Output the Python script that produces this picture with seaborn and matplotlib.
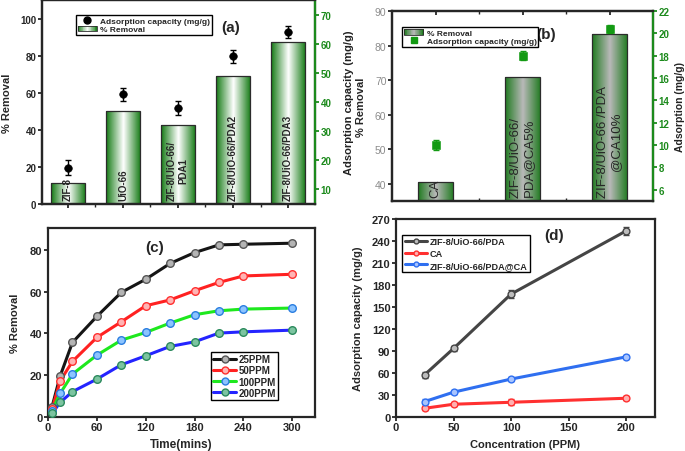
import numpy as np
import pandas as pd
import matplotlib
matplotlib.use('Agg')
import matplotlib.pyplot as plt
import seaborn as sns
from matplotlib.colors import LinearSegmentedColormap
from matplotlib.lines import Line2D
from matplotlib.patches import Rectangle
from matplotlib.legend_handler import HandlerBase

# ---------------- data ----------------
# (a) single materials
a_labels = ['ZIF-8', 'UiO-66', 'ZIF-8/UiO-66/\nPDA1', 'ZIF-8/UiO-66/PDA2', 'ZIF-8/UiO-66/PDA3']
a_removal = [11.2, 50.1, 42.6, 69.2, 87.2]
a_capacity = [17.5, 42.6, 38.0, 55.7, 64.1]
a_cap_err = [2.5, 2.2, 2.3, 2.2, 2.0]

# (b) membranes
b_labels = ['CA', 'ZIF-8/UiO-66/\nPDA@CA5%', 'ZIF-8/UiO-66 /PDA\n@CA10%']
b_removal = [40.5, 71.0, 83.3]
b_capacity = [10.0, 18.0, 20.4]
b_cap_err = [0.45, 0.4, 0.35]

# (c) kinetics
c_time = [5, 15, 30, 60, 90, 120, 150, 180, 210, 240, 300]
c_25ppm = [4.8, 19.6, 35.6, 48.1, 59.6, 65.9, 73.5, 78.7, 82.4, 82.7, 83.2]
c_50ppm = [3.7, 17.2, 26.5, 38.0, 45.5, 53.2, 56.0, 60.4, 64.4, 67.5, 68.3]
c_100ppm = [2.9, 11.2, 20.4, 29.5, 36.7, 40.4, 44.9, 48.9, 50.8, 51.6, 52.1]
c_200ppm = [1.6, 6.9, 12.0, 18.0, 24.9, 29.2, 33.7, 35.9, 40.1, 40.7, 41.5]
c_series = ['25PPM', '50PPM', '100PPM', '200PPM']

# (d) capacity vs concentration
d_conc = [25, 50, 100, 200]
d_pda = [57.4, 93.2, 167.5, 253.8]
d_ca = [11.5, 17.0, 19.7, 25.2]
d_pda_ca = [20.7, 33.5, 51.4, 81.7]
d_pda_err = [4, 4, 5, 5]
d_ca_err = [3, 3, 4, 3]
d_pda_ca_err = [3, 3, 3, 3]
d_series = ['ZIF-8/UiO-66/PDA', 'CA', 'ZIF-8/UiO-66/PDA@CA']

# ---------------- style ----------------
sns.set_theme(style='ticks')
plt.rcParams['font.family'] = ['Liberation Sans', 'DejaVu Sans']
plt.rcParams['font.weight'] = 'bold'
plt.rcParams['axes.labelweight'] = 'bold'
plt.rcParams['axes.linewidth'] = 1.6
plt.rcParams['xtick.major.width'] = 1.3
plt.rcParams['ytick.major.width'] = 1.3
plt.rcParams['xtick.major.size'] = 3
plt.rcParams['ytick.major.size'] = 3

GREEN = '#1c8a1c'
cmap_a = LinearSegmentedColormap.from_list('bar_a', ['#137a13', '#ffffff', '#137a13'])
cmap_b = LinearSegmentedColormap.from_list('bar_b', ['#1f7a1f', '#b9b9b9', '#1f7a1f'])


class GradientHandle:
    def __init__(self, cmap):
        self.cmap = cmap


class HandlerGradient(HandlerBase):
    """legend key drawn as vertical stripes of the bar gradient"""
    def create_artists(self, legend, orig_handle, xdescent, ydescent,
                       width, height, fontsize, trans):
        n = 24
        arts = []
        for i in range(n):
            r = Rectangle((-xdescent + i * width / n, -ydescent), width / n + 0.3,
                          height, facecolor=orig_handle.cmap((i + 0.5) / n),
                          edgecolor='none', transform=trans)
            arts.append(r)
        arts.append(Rectangle((-xdescent, -ydescent), width, height,
                              facecolor='none', edgecolor='#2b2b2b', lw=0.6,
                              transform=trans))
        return arts


def shade_bars(ax, cmap):
    """paint a horizontal edge->centre->edge gradient inside every bar"""
    grad = np.linspace(0, 1, 256).reshape(1, -1)
    for p in ax.patches:
        x0, y0 = p.get_x(), p.get_y()
        w, h = p.get_width(), p.get_height()
        im = ax.imshow(grad, extent=[x0, x0 + w, y0, y0 + h], aspect='auto',
                       cmap=cmap, zorder=p.get_zorder() - 0.1, interpolation='bilinear')
        im.set_clip_path(p.get_path(), p.get_transform())
        p.set_facecolor('none')
        p.set_edgecolor('#2b2b2b')
        p.set_linewidth(0.9)


fig = plt.figure(figsize=(6.85, 4.52), dpi=100)

# ================= (a) =================
ax_a = fig.add_axes([0.0613, 0.5465, 0.3986, 0.4513])
xa = np.arange(len(a_labels))
sns.barplot(x=xa, y=a_removal, ax=ax_a, width=0.62, native_scale=True)
shade_bars(ax_a, cmap_a)
ax_a.set_xlim(-0.47, 4.49)
ax_a.set_ylim(0, 110)
ax_a.set_yticks([0, 20, 40, 60, 80, 100])
ax_a.set_xticks(xa)
ax_a.set_xticks(xa[:-1] + 0.5, minor=True)
ax_a.set_xticklabels([])
ax_a.tick_params(axis='x', which='both', top=True, direction='out')
ax_a.tick_params(axis='x', which='minor', length=2)
ax_a.tick_params(axis='y', labelsize=7, pad=1)
ax_a.set_ylabel('% Removal', fontsize=8)
ax_a.yaxis.set_label_coords(-0.11, 0.5)
for p, lab in zip(ax_a.patches, a_labels):
    ax_a.text(p.get_x() + p.get_width() / 2, 0.02, lab, rotation=90,
              ha='center', va='bottom', fontsize=7, fontweight='bold',
              transform=ax_a.get_xaxis_transform(), zorder=5)

ax_a2 = ax_a.twinx()
sns.scatterplot(x=xa, y=a_capacity, ax=ax_a2, color='black', s=30,
                marker='o', zorder=4, edgecolor='black')
ax_a2.errorbar(xa, a_capacity, yerr=a_cap_err, fmt='none', ecolor='black',
               elinewidth=1, capsize=2, zorder=4)
ax_a2.set_ylim(5, 75)
ax_a2.set_yticks([10, 20, 30, 40, 50, 60, 70])
ax_a2.spines['right'].set_color(GREEN)
ax_a2.tick_params(axis='y', colors=GREEN, labelsize=7, pad=1)
ax_a2.set_ylabel('Adsorption capacity (mg/g)', fontsize=8, color='#222222')
ax_a2.yaxis.set_label_coords(1.105, 0.5)
ax_a.text(0.69, 0.85, '(a)', transform=ax_a.transAxes, fontsize=11,
          fontweight='bold', ha='center')
h_a = [Line2D([], [], marker='o', color='black', ls='none', markersize=5),
       GradientHandle(cmap_a)]
ax_a2.legend(h_a, ['Adsorption capacity (mg/g)', '% Removal'],
             handler_map={GradientHandle: HandlerGradient()},
             loc='upper left', bbox_to_anchor=(0.125, 0.925),
             frameon=True, fancybox=False, edgecolor='black', framealpha=1,
             borderpad=0.2, handlelength=2.3, labelspacing=0.1,
             handletextpad=0.4, borderaxespad=0,
             prop={'weight': 'bold', 'size': 6})

# ================= (b) =================
ax_b = fig.add_axes([0.5723, 0.5531, 0.3810, 0.4204])
xb = np.arange(len(b_labels))
sns.barplot(x=xb, y=b_removal, ax=ax_b, width=0.405, native_scale=True)
shade_bars(ax_b, cmap_b)
ax_b.set_xlim(-0.5, 2.5)
ax_b.set_ylim(35, 90)
ax_b.set_yticks([40, 50, 60, 70, 80, 90])
ax_b.set_xticks(xb)
ax_b.set_xticks(xb[:-1] + 0.5, minor=True)
ax_b.set_xticklabels([])
ax_b.tick_params(axis='x', which='both', top=True, direction='in')
ax_b.tick_params(axis='x', which='minor', length=2)
ax_b.tick_params(axis='y', labelsize=7.5, labelcolor='#8c8c8c', pad=1)
for t in ax_b.get_yticklabels():
    t.set_fontweight('normal')
ax_b.set_ylabel('% Removal', fontsize=8)
ax_b.yaxis.set_label_coords(-0.10, 0.5)
for p, lab in zip(ax_b.patches, b_labels):
    ax_b.text(p.get_x() + p.get_width() / 2, 0.02, lab, rotation=90,
              ha='center', va='bottom', fontsize=9.5, fontweight='normal',
              transform=ax_b.get_xaxis_transform(), zorder=5)

ax_b2 = ax_b.twinx()
sns.scatterplot(x=xb, y=b_capacity, ax=ax_b2, color='#139a13', s=28,
                marker='s', zorder=4, edgecolor='#139a13')
ax_b2.errorbar(xb, b_capacity, yerr=b_cap_err, fmt='none', ecolor='#139a13',
               elinewidth=1, capsize=2, zorder=4)
ax_b2.set_ylim(5, 22)
ax_b2.set_yticks([6, 8, 10, 12, 14, 16, 18, 20, 22])
ax_b2.spines['right'].set_color(GREEN)
ax_b2.tick_params(axis='y', colors=GREEN, labelsize=7, pad=1)
ax_b2.set_ylabel('Adsorption (mg/g)', fontsize=7.5, color='#222222')
ax_b2.yaxis.set_label_coords(1.085, 0.5)
ax_b.text(0.59, 0.86, '(b)', transform=ax_b.transAxes, fontsize=11,
          fontweight='bold', ha='center')
h_b = [GradientHandle(cmap_b),
       Line2D([], [], marker='s', color='#139a13', ls='none', markersize=4)]
ax_b2.legend(h_b, ['% Removal', 'Adsorption capacity (mg/g)'],
             handler_map={GradientHandle: HandlerGradient()},
             loc='upper left', bbox_to_anchor=(0.04, 0.915),
             frameon=True, fancybox=False, edgecolor='black', framealpha=1,
             borderpad=0.2, handlelength=2.3, labelspacing=0.1,
             handletextpad=0.4, borderaxespad=0,
             prop={'weight': 'bold', 'size': 6})

# ================= (c) =================
ax_c = fig.add_axes([0.0701, 0.0759, 0.3898, 0.4175])
df_c = pd.DataFrame({'time': c_time * 4,
                     'removal': c_25ppm + c_50ppm + c_100ppm + c_200ppm,
                     'conc': np.repeat(c_series, len(c_time))})
line_cols = ['#151515', '#ff2121', '#1ee81e', '#2424ff']
mark_face = ['#b4b4b4', '#ffb4b4', '#8cc4ff', '#7cc4a0']
mark_edge = ['#555555', '#ff3030', '#2a7de0', '#2b8a5c']
sns.lineplot(data=df_c, x='time', y='removal', hue='conc', hue_order=c_series,
             palette=line_cols, lw=2.2, ax=ax_c, legend=False, zorder=2)
for name, fc, ec in zip(c_series, mark_face, mark_edge):
    sub = df_c[df_c['conc'] == name]
    sns.scatterplot(data=sub, x='time', y='removal', ax=ax_c, s=30,
                    color=fc, edgecolor=ec, linewidth=1.0, zorder=3)
ax_c.set_xlim(0, 328)
ax_c.set_ylim(0, 90.5)
ax_c.set_xticks([0, 60, 120, 180, 240, 300])
ax_c.set_yticks([0, 20, 40, 60, 80])
ax_c.tick_params(labelsize=8, pad=1)
ax_c.set_xlabel('Time(mins)', fontsize=8.5)
ax_c.set_ylabel('% Removal', fontsize=8)
ax_c.xaxis.set_label_coords(0.5, -0.115)
ax_c.yaxis.set_label_coords(-0.105, 0.5)
ax_c.text(0.4, 0.88, '(c)', transform=ax_c.transAxes, fontsize=11,
          fontweight='bold', ha='center')
h_c = [Line2D([], [], color=lc, lw=2.2, marker='o', markersize=5,
              markerfacecolor=fc, markeredgecolor=ec)
       for lc, fc, ec in zip(line_cols, mark_face, mark_edge)]
ax_c.legend(h_c, c_series, loc='lower right', bbox_to_anchor=(0.86, 0.09),
            frameon=True, fancybox=False, edgecolor='black', framealpha=1,
            borderpad=0.2, handlelength=2.4, labelspacing=0.12,
            handletextpad=0.2, borderaxespad=0,
            prop={'weight': 'bold', 'size': 7})

# ================= (d) =================
ax_d = fig.add_axes([0.5781, 0.0759, 0.3781, 0.4374])
df_d = pd.DataFrame({'conc': d_conc * 3,
                     'cap': d_pda + d_ca + d_pda_ca,
                     'err': d_pda_err + d_ca_err + d_pda_ca_err,
                     'mat': np.repeat(d_series, len(d_conc))})
d_cols = ['#454545', '#ff3030', '#2f6ff0']
d_face = ['#bdbdbd', '#ffb0b0', '#a8c4ff']
sns.lineplot(data=df_d, x='conc', y='cap', hue='mat', hue_order=d_series,
             palette=d_cols, lw=2.2, ax=ax_d, legend=False, zorder=2)
for name, col, fc in zip(d_series, d_cols, d_face):
    sub = df_d[df_d['mat'] == name]
    ax_d.errorbar(sub['conc'], sub['cap'], yerr=sub['err'], fmt='none',
                  ecolor=col, elinewidth=1, capsize=2, zorder=3)
    sns.scatterplot(data=sub, x='conc', y='cap', ax=ax_d, s=24, color=fc,
                    edgecolor=col, linewidth=1.0, zorder=4)
ax_d.set_xlim(0, 225)
ax_d.set_ylim(0, 270)
ax_d.set_xticks([0, 50, 100, 150, 200])
ax_d.set_yticks(np.arange(0, 271, 30))
ax_d.tick_params(labelsize=8, pad=1)
ax_d.set_xlabel('Concentration (PPM)', fontsize=8)
ax_d.set_ylabel('Adsorption capacity (mg/g)', fontsize=8)
ax_d.xaxis.set_label_coords(0.5, -0.115)
ax_d.yaxis.set_label_coords(-0.127, 0.5)
ax_d.text(0.61, 0.9, '(d)', transform=ax_d.transAxes, fontsize=11,
          fontweight='bold', ha='center')
h_d = [Line2D([], [], color=c, lw=2.2, marker='o', markersize=3.5,
              markerfacecolor=fc, markeredgecolor=c)
       for c, fc in zip(d_cols, d_face)]
ax_d.legend(h_d, d_series, loc='upper left', bbox_to_anchor=(0.025, 0.92),
            frameon=True, fancybox=False, edgecolor='black', framealpha=1,
            borderpad=0.25, handlelength=2.4, labelspacing=0.3,
            handletextpad=0.3, borderaxespad=0,
            prop={'weight': 'bold', 'size': 6.6})

fig.savefig('out.png', dpi=100)
